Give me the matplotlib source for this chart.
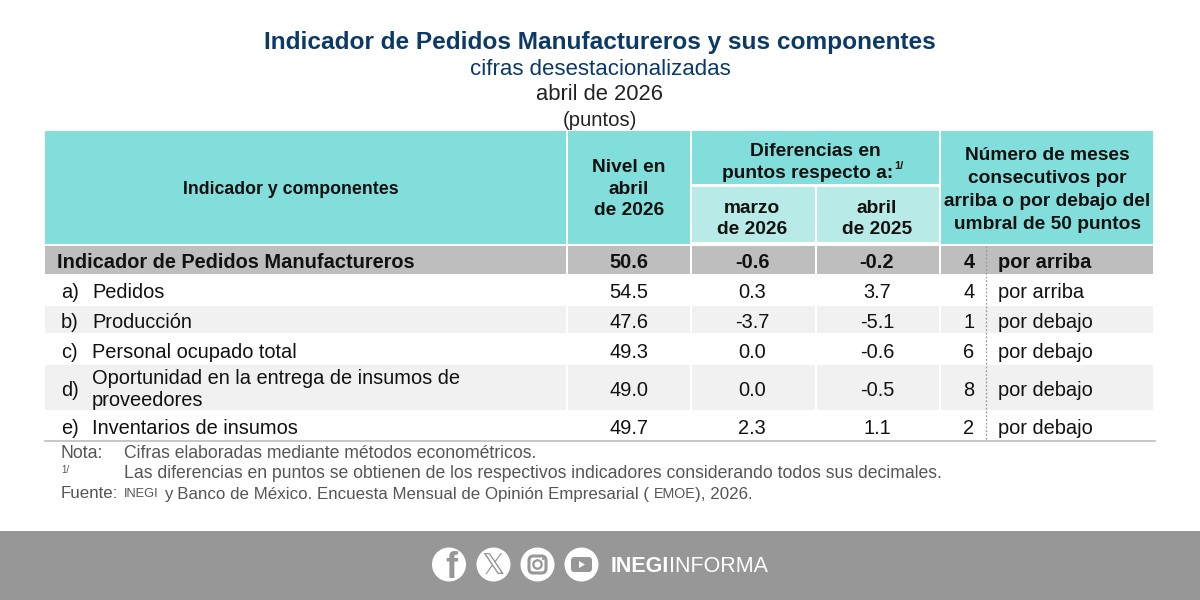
import matplotlib
matplotlib.use("Agg")
from matplotlib import pyplot as plt
from matplotlib.patches import Rectangle, Circle, FancyBboxPatch, Polygon

plt.rcParams['font.family'] = ['Liberation Sans', 'DejaVu Sans']

title = "Indicador de Pedidos Manufactureros y sus componentes"
subtitle = "cifras desestacionalizadas"
period = "abril de 2026"
units = "(puntos)"

row_labels = ["Indicador de Pedidos Manufactureros", "Pedidos", "Producción", "Personal ocupado total",
              "Oportunidad en la entrega de insumos de\nproveedores", "Inventarios de insumos"]
row_letters = ["", "a)", "b)", "c)", "d)", "e)"]
nivel = ["50.6", "54.5", "47.6", "49.3", "49.0", "49.7"]
dif_marzo = ["-0.6", "0.3", "-3.7", "0.0", "0.0", "2.3"]
dif_abril = ["-0.2", "3.7", "-5.1", "-0.6", "-0.5", "1.1"]
meses = ["4", "4", "1", "6", "8", "2"]
posicion = ["por arriba", "por arriba", "por debajo", "por debajo", "por debajo", "por debajo"]

notes = ["Cifras elaboradas mediante métodos econométricos.",
         "Las diferencias en puntos se obtienen de los respectivos indicadores considerando todos sus decimales."]

TEAL = '#82DEDA'
TEAL_LIGHT = '#B8EBE7'
GREY = '#BEBEBE'
ROW_GREY = '#F1F1F1'
INK = '#111111'
NOTE = '#555555'
NAVY = '#0B3A66'
BAND = '#979797'

# column edges and row edges, in pixels
col_x = [(45, 566), (568, 690), (692, 815), (817, 939), (941, 1153)]
row_y = [(246, 274), (276, 305), (306, 333), (334, 364), (365, 410), (411, 440)]
row_fill = [GREY, 'white', ROW_GREY, 'white', ROW_GREY, 'white']
row_text_y = [261, 291, 321, 351, 388, 427]

fig = plt.figure(figsize=(12, 6), dpi=100)
ax = fig.add_axes([0, 0, 1, 1])
ax.set_xlim(0, 1200)
ax.set_ylim(600, 0)
ax.axis('off')


def box(x0, x1, y0, y1, color):
    ax.add_patch(Rectangle((x0, y0), x1 - x0, y1 - y0, facecolor=color, edgecolor='none'))


def put(x, y, s, size=14.4, weight='normal', color=INK, ha='center', **kw):
    # +2: va='center' sits a little high against the x-height of the reference
    ax.text(x, y + 2, s, fontsize=size, fontweight=weight, color=color, ha=ha, va='center', **kw)


# titles
put(600, 40, title, size=17.6, weight='bold', color=NAVY)
put(600, 67.5, subtitle, size=16, color=NAVY)
put(600, 93, period, size=15.8, color='#222222')
put(600, 119, units, size=14.6, color='#222222')

# header
box(45, 566, 131, 244, TEAL)
box(568, 690, 131, 244, TEAL)
box(692, 939, 131, 184, TEAL)
box(692, 815, 187, 242, TEAL_LIGHT)
box(817, 939, 187, 242, TEAL_LIGHT)
box(941, 1153, 131, 244, TEAL)

HEAD = 13.8
put(291, 188, "Indicador y componentes", size=12.8, weight='bold')
put(629, 187, "Nivel en\nabril\nde 2026", size=HEAD, weight='bold', linespacing=1.34)
put(815, 150, "Diferencias en", size=HEAD, weight='bold')
put(808, 172, "puntos respecto a:", size=HEAD, weight='bold')
put(899, 164, "1/", size=8, weight='bold')
put(752, 217, "marzo\nde 2026", size=HEAD, weight='bold', linespacing=1.37)
put(877, 217, "abril\nde 2025", size=HEAD, weight='bold', linespacing=1.37)
put(1047, 188, "Número de meses\nconsecutivos por\narriba o por debajo del\numbral de 50 puntos",
    size=HEAD, weight='bold', linespacing=1.44)

# body rows
for i, (y0, y1) in enumerate(row_y):
    for x0, x1 in col_x:
        box(x0, x1, y0, y1, row_fill[i])
    w = 'bold' if i == 0 else 'normal'
    y = row_text_y[i]
    if i == 0:
        put(57, y, row_labels[i], weight='bold', ha='left')
    else:
        put(61, y, row_letters[i], ha='left')
        put(92, y, row_labels[i], ha='left', linespacing=1.2)
    put(629, y, nivel[i], weight=w)
    put(752, y, dif_marzo[i], weight=w)
    put(877, y, dif_abril[i], weight=w)
    put(969, y, meses[i], weight=w)
    put(998, y, posicion[i], weight=w, ha='left')

ax.plot([985.5, 985.5], [246, 440], color='#999999', lw=0.9, ls=(0, (1.5, 1.5)))
ax.plot([45, 1155], [441, 441], color='#BDBDBD', lw=1.2)

# notes
put(61, 452, "Nota:", size=12.7, color=NOTE, ha='left')
put(124, 452, notes[0], size=12.7, color=NOTE, ha='left')
put(61, 468, "1/", size=7, color=NOTE, ha='left')
put(124, 471, notes[1], size=12.7, color=NOTE, ha='left')
put(61, 492, "Fuente:", size=12.2, color=NOTE, ha='left')
put(124, 492, "INEGI", size=9.3, color=NOTE, ha='left')
put(164, 492, "y Banco de México. Encuesta Mensual de Opinión Empresarial (", size=12.2, color=NOTE, ha='left')
put(654, 492, "EMOE", size=10.3, color=NOTE, ha='left')
put(695, 492, "), 2026.", size=12.2, color=NOTE, ha='left')

# footer band
box(0, 1200, 531, 600, BAND)

for cx in [449, 493.5, 537.5, 581.5]:
    ax.add_patch(Circle((cx, 564.5), 17, facecolor='white', edgecolor='none'))
put(451, 566, "f", size=26, weight='bold', color=BAND)
put(493.5, 564, "𝕏", size=21, color=BAND)
ax.add_patch(FancyBboxPatch((529, 556), 17, 17, boxstyle="round,pad=0,rounding_size=4.5",
                            facecolor='none', edgecolor=BAND, lw=2.2))
ax.add_patch(Circle((537.5, 564.5), 4.2, facecolor='none', edgecolor=BAND, lw=1.6))
ax.add_patch(Circle((543, 559), 1.1, facecolor=BAND, edgecolor='none'))
ax.add_patch(FancyBboxPatch((571, 557), 21, 15, boxstyle="round,pad=0,rounding_size=3.5",
                            facecolor=BAND, edgecolor='none'))
ax.add_patch(Polygon([(579, 561), (579, 568), (585, 564.5)], facecolor='white', edgecolor='none'))
ax.text(611, 566, "INEGI", fontsize=15.5, fontweight='bold', color='white', ha='left', va='center')
ax.text(669, 566, "INFORMA", fontsize=15.5, color='white', ha='left', va='center')

fig.savefig("out.png", dpi=100, facecolor='white')
